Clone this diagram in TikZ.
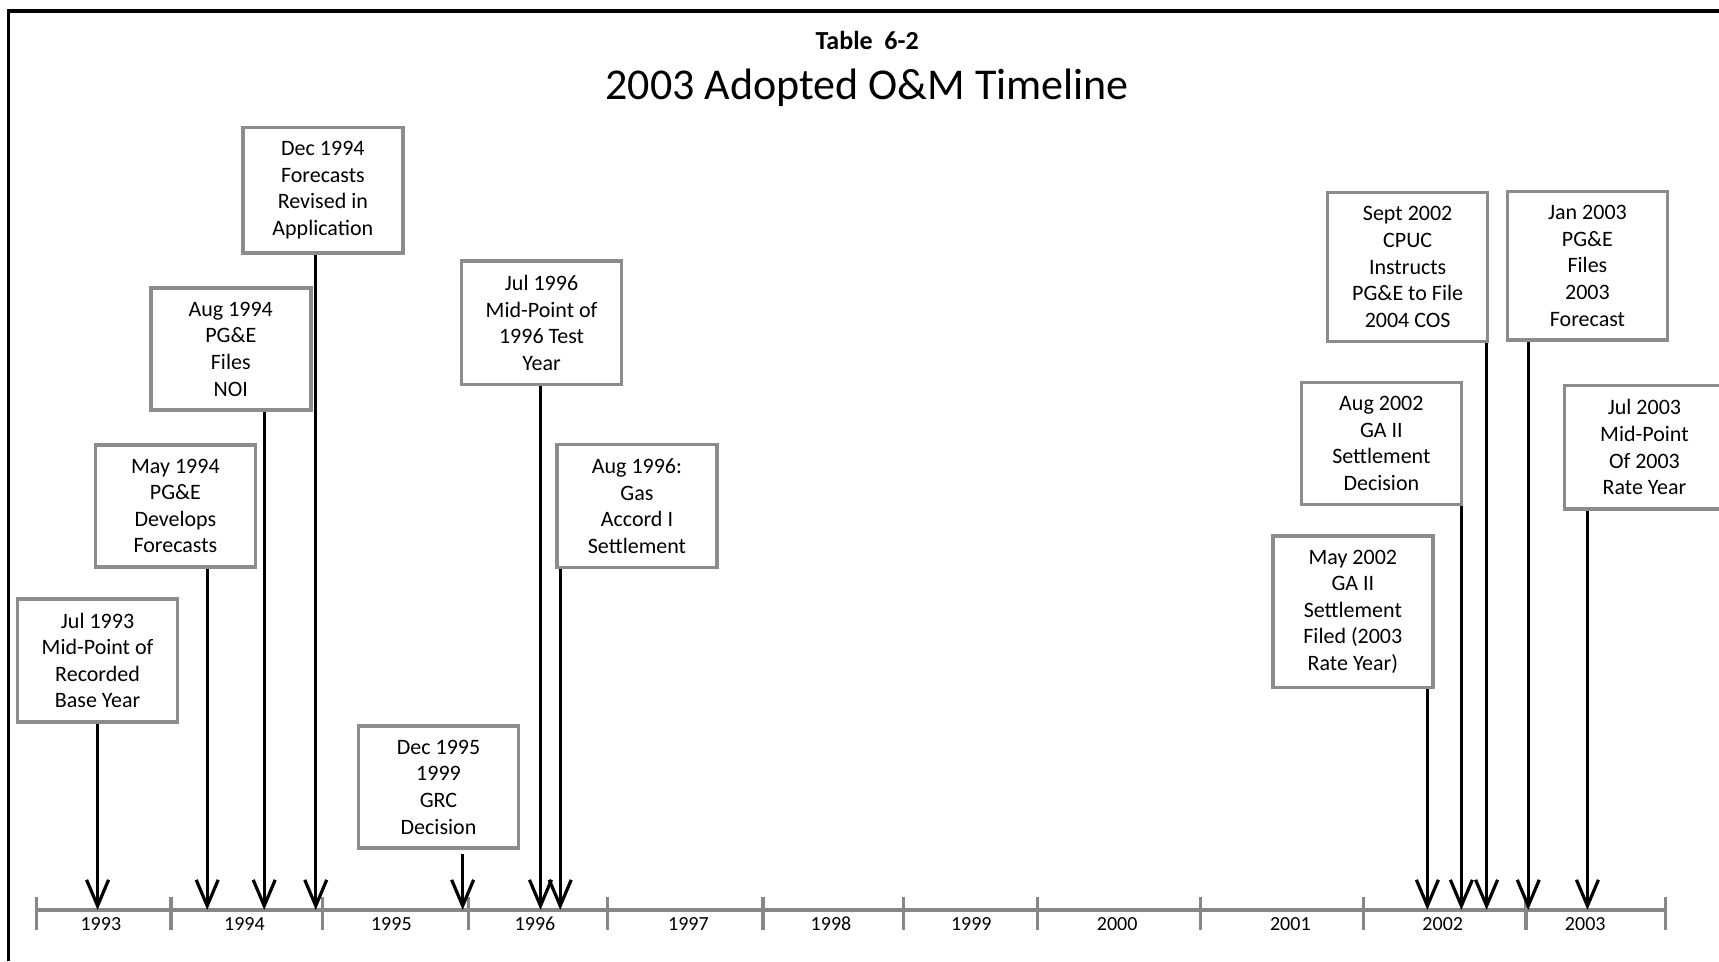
\documentclass[tikz,border=0pt]{standalone}
\usepackage{fontspec}
\setmainfont{Carlito}
\usetikzlibrary{positioning,arrows.meta}

\definecolor{boxgray}{RGB}{140,140,140}
\definecolor{axisgray}{RGB}{135,135,135}

\tikzset{
	event/.style={draw=boxgray, line width=1.8pt, fill=white, align=center, minimum width=80pt, inner ysep=7pt, font=\fontsize{11}{13.3}\selectfont},
	pointer/.style={-{Straight Barb[length=13pt,width=11pt]}, line width=1.6pt},
	axis/.style={draw=axisgray, line width=2.4pt},
	yearlbl/.style={font=\fontsize{10}{12}\selectfont, inner sep=0pt}
}

\begin{document}
\begin{tikzpicture}[x=0.54815pt, y=-0.54815pt]
	\clip (0,0) rectangle (1568,877);
	\draw[line width=1.6pt] (8,877) -- (8,10) -- (1568,10);
	\node[font=\fontsize{13}{15}\bfseries] (tab) at (791,37) {Table~~6-2};
	\node[font=\fontsize{22}{26}\selectfont] (title) at (791,80) {2003 Adopted O\&M Timeline};
	% time axis
	\draw[axis] (33,830) -- (1519,830);
	\foreach \x in {33,156,294,427,554,696,824,946,1095,1244,1392,1519}
		\draw[axis, line width=1.6pt] (\x,818) -- (\x,848);
	\foreach \x/\yr in {92/1993,223/1994,357/1995,488/1996,628/1997,758/1998,886/1999,1019/2000,1177/2001,1316/2002,1446/2003}
		\node[yearlbl] (y\yr) at (\x,843) {\yr};
	% events
	\node[event] (jul93) at (89,602.5) {Jul 1993\\Mid-Point of\\Recorded\\Base Year};
	\node[event] (may94) at (160,461.5) {May 1994\\PG\&E\\Develops\\Forecasts};
	\node[event] (aug94) at (210.5,318.5) {Aug 1994\\PG\&E\\Files\\NOI};
	\node[event] (dec94) at (294.5,173.5) {Dec 1994\\Forecasts\\Revised in\\Application};
	\node[event] (dec95) at (400,718) {Dec 1995\\1999\\GRC\\Decision};
	\node[event] (jul96) at (494,294.5) {Jul 1996\\Mid-Point of\\1996 Test\\Year};
	\node[event] (aug96) at (581,461.5) {Aug 1996:\\Gas\\Accord I\\Settlement};
	\node[event] (may02) at (1234,558) {May 2002\\GA II\\Settlement\\Filed (2003\\Rate Year)};
	\node[event] (aug02) at (1260,404.5) {Aug 2002\\GA II\\Settlement\\Decision};
	\node[event] (sep02) at (1284,243.5) {Sept 2002\\CPUC\\Instructs\\PG\&E to File\\2004 COS};
	\node[event] (jan03) at (1448,242.5) {Jan 2003\\PG\&E\\Files\\2003\\Forecast};
	\node[event] (jul03) at (1500,408) {Jul 2003\\Mid-Point\\Of 2003\\Rate Year};
	% points on the axis
	\coordinate (tjul93) at (89,830);
	\coordinate (tmay94) at (189,830);
	\coordinate (taug94) at (241,830);
	\coordinate (tdec94) at (288,830);
	\coordinate (tdec95) at (422,830);
	\coordinate (tjul96) at (493,830);
	\coordinate (taug96) at (511,830);
	\coordinate (tmay02) at (1302,830);
	\coordinate (taug02) at (1333,830);
	\coordinate (tsep02) at (1356,830);
	\coordinate (tjan03) at (1394,830);
	\coordinate (tjul03) at (1448,830);
	\foreach \e in {jul93,may94,aug94,dec94,jul96,aug96,may02,aug02,sep02,jan03,jul03}
		\draw[pointer] (\e.south -| t\e) -- (t\e);
	\draw[pointer] ([yshift=-2pt]dec95.south -| tdec95) -- (tdec95);
\end{tikzpicture}
\end{document}
